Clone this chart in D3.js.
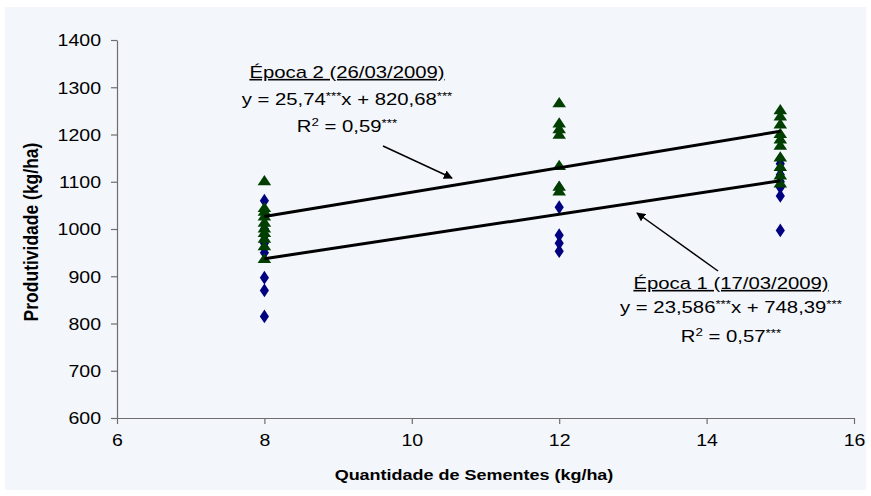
<!DOCTYPE html>
<html>
<head>
<meta charset="utf-8">
<script src="https://cdn.jsdelivr.net/npm/d3@7"></script>
<style>
  body { margin: 0; background: #fff; }
  text { font-family: "Liberation Sans", Arial, sans-serif; fill: #000; }
</style>
</head>
<body>
<div id="chart"></div>
<script>
// Data
const xTicks = [6, 8, 10, 12, 14, 16];
const yTicks = [600, 700, 800, 900, 1000, 1100, 1200, 1300, 1400];

// Época 1 (diamonds)
const epoca1X = [8, 8, 8, 8, 8, 8, 8, 8, 8, 12, 12, 12, 12, 12, 15, 15, 15, 15, 15, 15, 15, 15];
const epoca1Y = [1060, 1000, 985, 970, 960, 950, 897, 870, 815, 1087, 1046, 987, 970, 953, 1148, 1138, 1128, 1115, 1100, 1088, 1070, 997];

// Época 2 (triangles)
const epoca2X = [8, 8, 8, 8, 8, 8, 8, 8, 8, 8, 12, 12, 12, 12, 12, 12, 12, 15, 15, 15, 15, 15, 15, 15, 15, 15, 15];
const epoca2Y = [1100, 1043, 1035, 1025, 1012, 1000, 990, 978, 962, 935, 1265, 1222, 1210, 1198, 1132, 1088, 1078, 1250, 1237, 1220, 1200, 1188, 1175, 1150, 1130, 1112, 1095];

// fitted lines (slope, intercept) and x range
const slopes = [23.586, 25.74];
const intercepts = [748.39, 820.68];
const fitRange = [8, 15];

const W = 871, H = 496;
const sx = 1.27; // horizontal stretch of the text in the original picture

const svg = d3.select("#chart").append("svg")
    .attr("width", W)
    .attr("height", H);

svg.append("rect")
    .attr("x", 5).attr("y", 7)
    .attr("width", 861).attr("height", 483)
    .attr("fill", "#f3f6fb");

const x = d3.scaleLinear().domain([6, 16]).range([117, 854]);
const y = d3.scaleLinear().domain([600, 1400]).range([418, 40]);

// y axis
const yAxis = svg.append("g")
    .attr("transform", "translate(117,0)")
    .call(d3.axisLeft(y).tickValues(yTicks).tickFormat(d3.format("d")).tickSize(6).tickSizeOuter(0));
yAxis.selectAll("text")
    .attr("x", -16 / 1.22)
    .attr("dy", "0.36em")
    .attr("transform", "scale(1.22,1)")
    .style("font-size", "16px")
    .style("font-family", "Liberation Sans, Arial, sans-serif");

// x axis
const xAxis = svg.append("g")
    .attr("transform", "translate(0,418)")
    .call(d3.axisBottom(x).tickValues(xTicks).tickFormat(d3.format("d")).tickSize(6).tickSizeOuter(0));
xAxis.selectAll("text")
    .attr("y", 22)
    .attr("dy", "0.36em")
    .attr("transform", "scale(1.22,1)")
    .style("font-size", "16px")
    .style("font-family", "Liberation Sans, Arial, sans-serif");

svg.selectAll(".domain, .tick line").attr("stroke", "#6e6e6e").attr("stroke-width", 1.2);

// axis titles
svg.append("g")
    .attr("transform", `translate(474,480) scale(1.2,1)`)
    .append("text")
    .attr("text-anchor", "middle")
    .style("font-size", "15px")
    .style("font-weight", "bold")
    .text("Quantidade de Sementes (kg/ha)");

svg.append("g")
    .attr("transform", `translate(38,232) scale(1.2,1) rotate(-90)`)
    .append("text")
    .attr("text-anchor", "middle")
    .style("font-size", "17.5px")
    .style("font-weight", "bold")
    .text("Produtividade (kg/ha)");

// points: diamonds then triangles
const diamond = d3.symbol().type(d3.symbolDiamond).size(55);
const triangle = d3.symbol().type(d3.symbolTriangle).size(60);

svg.selectAll("path.ep1")
    .data(epoca1Y)
    .enter()
    .append("path")
    .attr("class", "ep1")
    .attr("d", diamond)
    .attr("transform", (d, i) => `translate(${x(epoca1X[i])},${y(d)}) scale(1.15,1)`)
    .attr("fill", "#000080");

svg.selectAll("path.ep2")
    .data(epoca2Y)
    .enter()
    .append("path")
    .attr("class", "ep2")
    .attr("d", triangle)
    .attr("transform", (d, i) => `translate(${x(epoca2X[i])},${y(d)}) scale(1.15,1)`)
    .attr("fill", "#003f00");

// fitted lines
slopes.forEach((b, i) => {
    const pts = fitRange.map(v => [v, b * v + intercepts[i]]);
    svg.append("path")
        .datum(pts)
        .attr("fill", "none")
        .attr("stroke", "#000")
        .attr("stroke-width", 3)
        .attr("d", d3.line().x(d => x(d[0])).y(d => y(d[1])));
});

// arrows
svg.append("defs").append("marker")
    .attr("id", "arrow")
    .attr("viewBox", "0 0 10 10")
    .attr("refX", 9).attr("refY", 5)
    .attr("markerWidth", 6).attr("markerHeight", 6)
    .attr("orient", "auto")
    .append("path")
    .attr("d", "M0,0 L10,5 L0,10 Z")
    .attr("fill", "#000");

const arrows = [
    [383, 146, 452, 178],
    [718, 271, 637, 213]
];
arrows.forEach(a => {
    svg.append("line")
        .attr("x1", a[0]).attr("y1", a[1])
        .attr("x2", a[2]).attr("y2", a[3])
        .attr("stroke", "#000")
        .attr("stroke-width", 1.5)
        .attr("marker-end", "url(#arrow)");
});

// annotation blocks
function label(cx, yBase, title, coef, icpt, r2) {
    const g1 = svg.append("g").attr("transform", `translate(${cx},${yBase[0]}) scale(${sx},1)`);
    g1.append("text")
        .attr("text-anchor", "middle")
        .style("font-size", "16px")
        .style("text-decoration", "underline")
        .text(title);

    const g2 = svg.append("g").attr("transform", `translate(${cx},${yBase[1]}) scale(${sx},1)`);
    const t2 = g2.append("text").attr("text-anchor", "middle").style("font-size", "16px");
    t2.append("tspan").text("y = " + coef);
    t2.append("tspan").attr("dy", -5).style("font-size", "10.5px").text("***");
    t2.append("tspan").attr("dy", 5).text("x + " + icpt);
    t2.append("tspan").attr("dy", -5).style("font-size", "10.5px").text("***");

    const g3 = svg.append("g").attr("transform", `translate(${cx},${yBase[2]}) scale(${sx},1)`);
    const t3 = g3.append("text").attr("text-anchor", "middle").style("font-size", "16px");
    t3.append("tspan").text("R");
    t3.append("tspan").attr("dy", -6).style("font-size", "10.5px").text("2");
    t3.append("tspan").attr("dy", 6).text(" = " + r2);
    t3.append("tspan").attr("dy", -5).style("font-size", "10.5px").text("***");
}

label(347, [78, 105, 132], "Época 2 (26/03/2009)", "25,74", "820,68", "0,59");
label(731, [289, 313, 342], "Época 1 (17/03/2009)", "23,586", "748,39", "0,57");
</script>
</body>
</html>
